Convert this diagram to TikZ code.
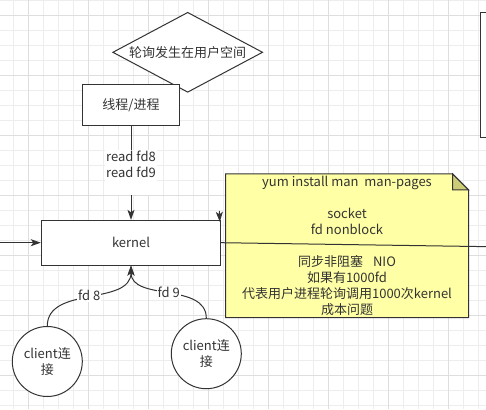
\documentclass[tikz,border=0pt]{standalone}
\usepackage{fontspec}
\setmainfont{Noto Sans CJK SC}
\usetikzlibrary{shapes.geometric,arrows.meta,positioning}
\definecolor{inkgray}{HTML}{333333}
\definecolor{notefill}{HTML}{FFFFA6}
\definecolor{notefold}{HTML}{CCCC77}
\definecolor{gridminor}{HTML}{EDEDED}
\definecolor{gridmajor}{HTML}{DEDEDE}
\pgfdeclarelayer{gridlayer}
\pgfdeclarelayer{notelayer}
\pgfsetlayers{gridlayer,notelayer,main}

\begin{document}
\begin{tikzpicture}[x=1pt,y=-1pt,>={Stealth[length=10pt,width=7pt,inset=2.5pt]}]
\tikzset{
myfont/.style={font=\fontsize{13}{16}\selectfont, text=inkgray},
mybox/.style={
  draw=inkgray,
  fill=white,
  line width=1pt,
  inner sep=0pt,
  myfont
  },
mydecision/.style={
  mybox,
  diamond,
  aspect=1.875,
  minimum width=150pt,
  minimum height=80pt
  },
myclient/.style={
  mybox,
  circle,
  minimum size=70pt,
  align=center
  },
mynote/.style={
  minimum width=242.6pt,
  minimum height=143.3pt,
  inner sep=0pt,
  align=center,
  myfont
  },
mylabel/.style={fill=white, inner sep=1pt, align=center, myfont},
mywire/.style={draw=inkgray, line width=1pt}
}

\useasboundingbox (0,0) rectangle (486,409);

\begin{pgfonlayer}{gridlayer}
  \fill[white] (0,0) rectangle (486,409);
  \foreach \gx in {13.5,28.5,...,486} \draw[gridminor, line width=1pt] (\gx,0) -- (\gx,409);
  \foreach \gy in {0.5,15.5,...,409} \draw[gridminor, line width=1pt] (0,\gy) -- (486,\gy);
  \foreach \gx in {28.5,88.5,...,486} \draw[gridmajor, line width=1pt] (\gx,0) -- (\gx,409);
  \foreach \gy in {15.5,75.5,...,409} \draw[gridmajor, line width=1pt] (0,\gy) -- (486,\gy);
\end{pgfonlayer}

\clip (0,0) rectangle (486,409);

\node[mydecision] (poll) at (187.7,52.3) {轮询发生在用户空间};
\node[mybox, minimum width=97.4pt, minimum height=40.7pt] (proc) at (131,104.7) {线程/进程};
\node[mybox, minimum width=179.4pt, minimum height=44.7pt] (kernel) at (131,242.7) {kernel};
\node[mybox, anchor=north west, minimum width=40pt, minimum height=124.4pt] (sidebox) at (480.3,12.3) {};

\node[myclient] (cli8) at (47.3,361.5) {client连\\接};
\node[myclient] (cli9) at (206.3,353.7) {client连\\接};

\node[mynote] (memo) at (347,245.7) {%
  yum install man\ \ man-pages\\[16pt]
  socket\\
  fd nonblock\\[16pt]
  同步非阻塞\hspace{10pt}NIO\\
  如果有1000fd\\
  代表用户进程轮询调用1000次kernel\\
  成本问题};

\begin{pgfonlayer}{notelayer}
  \filldraw[fill=notefill, draw=inkgray, line width=1pt]
    (memo.north west) -- ([xshift=-16pt]memo.north east)
    -- ([yshift=-16pt]memo.north east) -- (memo.south east)
    -- (memo.south west) -- cycle;
  \filldraw[fill=notefold, draw=inkgray, line width=1pt]
    ([xshift=-16pt]memo.north east) -- ([xshift=-16pt,yshift=-16pt]memo.north east)
    -- ([yshift=-16pt]memo.north east) -- cycle;
\end{pgfonlayer}

\coordinate (feed) at (0,242.7);
\coordinate (stubtop) at (219.3,211);
\coordinate (exitpt) at (490,246.7);

\draw[mywire, ->] (proc) -- node[mylabel] {read fd8\\read fd9\\\mbox{}} (kernel);
\draw[mywire, ->] (feed) -- (kernel);
\draw[mywire, ->] (stubtop) -- ([shift={(-1.4pt,-2pt)}]kernel.north east);
\draw[mywire] (kernel.east) -- (exitpt);

\draw[mywire, ->] (cli8.north) to[out=90, in=-90] node[mylabel] {fd 8} (kernel.south);
\draw[mywire, ->] (cli9.north) to[out=90, in=-90] node[mylabel] {fd 9} (kernel.south);

\end{tikzpicture}
\end{document}
